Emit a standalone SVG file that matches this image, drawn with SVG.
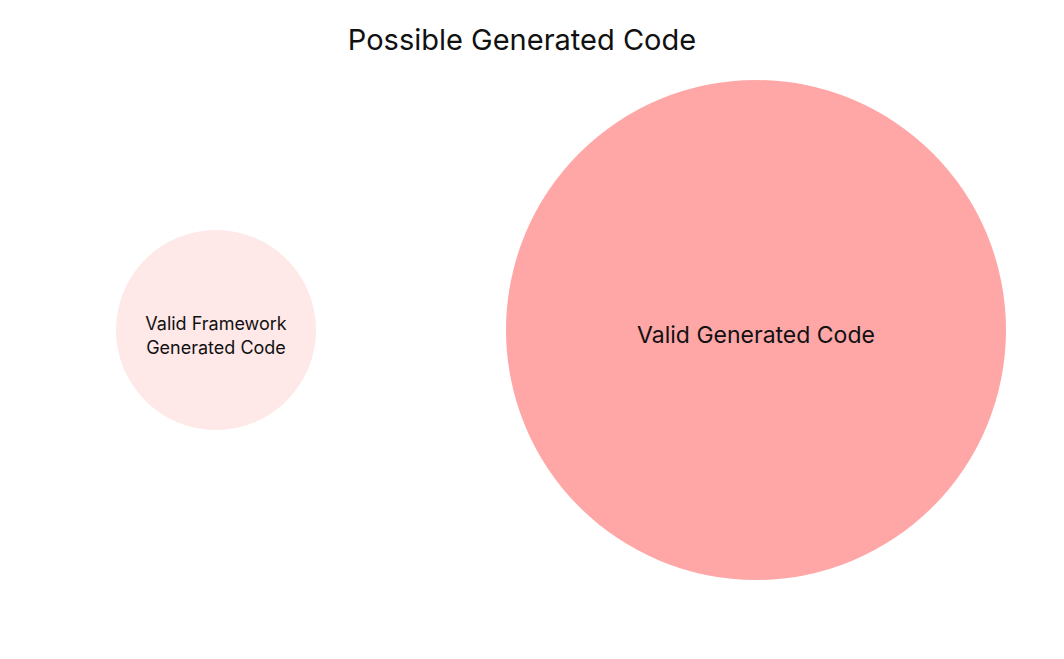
<svg xmlns="http://www.w3.org/2000/svg" width="1064" height="659" viewBox="0 0 1064 659">
<style>text{font-family:Inter,"Liberation Sans",sans-serif;fill:#111;text-anchor:middle}</style>
<rect width="1064" height="659" fill="#fff"/>
<text x="522" y="50" font-size="29">Possible Generated Code</text>
<g id="valid-framework"><circle cx="216" cy="330" r="100" fill="#ffe8e8"/>
<text x="216" y="330" font-size="18">Valid Framework</text><text x="216" y="354" font-size="18">Generated Code</text></g>
<g id="valid-generated"><circle cx="756" cy="330" r="250" fill="#ffa6a6"/>
<text x="756" y="343" font-size="23">Valid Generated Code</text></g>
<g id="connectors"/>
</svg>
